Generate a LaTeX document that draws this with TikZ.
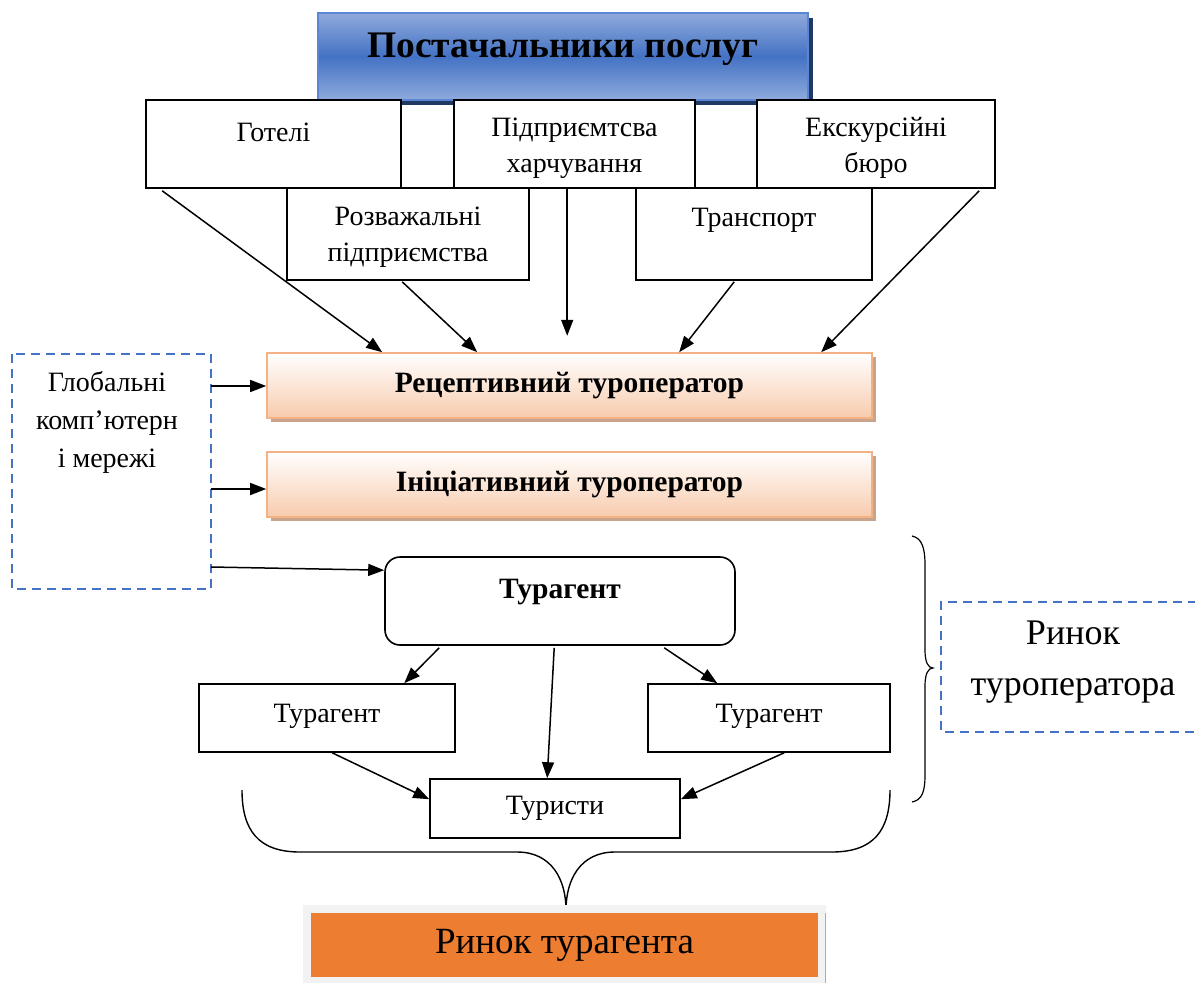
\documentclass[tikz,border=0pt]{standalone}
\usepackage{fontspec}
\setmainfont{Liberation Serif}
\usetikzlibrary{arrows.meta,calc}
\definecolor{blueM}{HTML}{4472C4}
\definecolor{blueL}{HTML}{8FAADC}
\definecolor{blueD}{HTML}{1F3864}
\definecolor{blueB}{HTML}{5B86D6}
\definecolor{peach}{HTML}{F8CBAD}
\definecolor{peachB}{HTML}{F4B183}
\definecolor{peachS}{HTML}{C8A48C}
\definecolor{dashblue}{HTML}{4472C4}
\definecolor{orangeF}{HTML}{ED7D31}
\definecolor{grayBg}{HTML}{F2F2F2}
\newcommand\txtN{\fontsize{28}{36}\selectfont}
\begin{document}
\begin{tikzpicture}[x=1pt,y=-1pt,
  box/.style={draw=black, line width=1.6pt, fill=white, inner sep=0pt},
  pbox/.style={draw=peachB, line width=1.6pt, top color=white, bottom color=peach, inner sep=0pt, minimum width=605, minimum height=65},
  txt/.style={inner sep=0pt, align=center, font=\txtN},
  arr/.style={-{Triangle[length=16pt,width=12pt]}, line width=1.5pt},
  dbox/.style={draw=dashblue, line width=2.4pt, dash pattern=on 9pt off 6pt}]
\useasboundingbox (0,0) rectangle (1195,983);
\fill[white] (0,0) rectangle (1195,983);
% title
\fill[blueD] (323,18) rectangle (813,105);
\node[draw=blueB, line width=1.4pt, top color=blueL, bottom color=blueL, middle color=blueM, minimum width=490, minimum height=87, inner sep=0pt] (title) at (563,56.5) {};
\node[txt, font=\fontsize{37.5}{40}\selectfont\bfseries] (titletxt) at (563,49) {Постачальники послуг};
% supplier boxes
\node[box, minimum width=255, minimum height=88] (hot) at (273.5,144) {};
\node[box, minimum width=241, minimum height=88] (food) at (574.5,144) {};
\node[box, minimum width=238, minimum height=88] (exc) at (876,144) {};
\node[box, minimum width=242, minimum height=92] (ent) at (408,234) {};
\node[box, minimum width=236, minimum height=92] (trn) at (754,234) {};
\node[txt] (hott) at (273.5,132) {Готелі};
\node[txt] (foodt) at (574.5,148) {Підприємтсва\\харчування};
\node[txt] (exct) at (876,148) {Екскурсійні\\бюро};
\node[txt] (entt) at (408,237) {Розважальні\\підприємства};
\node[txt] (trnt) at (754,220) {Транспорт};
% operators
\fill[peachS] (271,357) rectangle (876,422);
\node[pbox] (rec) at (569.5,385.5) {};
\node[txt, font=\fontsize{29.5}{32}\selectfont\bfseries] (rect) at (569.5,386) {Рецептивний туроператор};
\fill[peachS] (271,456) rectangle (876,521);
\node[pbox] (ini) at (569.5,484.5) {};
\node[txt, font=\fontsize{29.5}{32}\selectfont\bfseries] (init) at (569.5,484) {Ініціативний туроператор};
% arrows from suppliers
\draw[arr] ($(hot.south west)+(17,2)$) -- ($(rec.north west)+(116,0)$);
\draw[arr] ($(ent.south west)+(116,1)$) -- ($(rec.north west)+(211,0)$);
\draw[arr] ($(food.south west)+(114,0)$) -- ($(food.south west)+(114,147)$);
\draw[arr] ($(trn.south west)+(99,1)$) -- ($(rec.north west)+(413,0)$);
\draw[arr] ($(exc.south west)+(223,2)$) -- ($(rec.north west)+(555,0)$);
% global networks
\draw[dbox] (12,354) rectangle (211,589);
\node[txt, font=\fontsize{28}{38}\selectfont] (glob) at (107,422) {Глобальні\\комп’ютерн\\і мережі};
\coordinate (g1) at (211,386);
\coordinate (g2) at (211,489);
\coordinate (g3) at (211,567);
\draw[arr] (g1) -- (rec.west |- g1);
\draw[arr] (g2) -- (ini.west |- g2);
% agents
\node[box, rounded corners=15pt, minimum width=350, minimum height=88] (ag) at (560,601) {};
\node[txt, font=\fontsize{29.5}{32}\selectfont\bfseries] (agt) at (560,592) {Турагент};
\draw[arr] (g3) -- ($(ag.north west)+(0,14)$);
\node[box, minimum width=256, minimum height=68] (agl) at (327,718) {};
\node[txt] (aglt) at (327,716) {Турагент};
\node[box, minimum width=242, minimum height=68] (agr) at (769,718) {};
\node[txt] (agrt) at (769,716) {Турагент};
\node[box, minimum width=250, minimum height=59] (tour) at (555,808.5) {};
\node[txt] (tourt) at (555,808) {Туристи};
\draw[arr] ($(ag.south west)+(55,2)$) -- ($(agl.north west)+(206,0)$);
\draw[arr] ($(ag.south west)+(170,2)$) -- ($(tour.north west)+(118,0)$);
\draw[arr] ($(ag.south west)+(280,2)$) -- ($(agr.north west)+(70,0)$);
\draw[arr] ($(agl.south west)+(134,0)$) -- ($(tour.north west)+(0,21)$);
\draw[arr] ($(agr.south west)+(137,0)$) -- ($(tour.north east)+(0,21)$);
% right brace
\draw[line width=1.2pt] (912,536) .. controls (922,538) and (925,548) .. (925,565) -- (925,650) .. controls (925,662) and (928,668) .. (933,668) .. controls (928,668) and (925,674) .. (925,686) -- (925,775) .. controls (925,792) and (922,800) .. (912,802);
\draw[dbox] (1197,602) -- (941,602) -- (941,732) -- (1197,732);
\node[txt, font=\fontsize{36}{51}\selectfont] (rto) at (1073,662.5) {Ринок\\туроператора};
% bottom brace
\draw[line width=1.4pt] (242,790) .. controls (242,830) and (258,852) .. (300,852) -- (517,852) .. controls (552,852) and (566,880) .. (566,910);
\draw[line width=1.4pt] (890,790) .. controls (890,830) and (874,852) .. (832,852) -- (615,852) .. controls (580,852) and (566,880) .. (566,910);
% bottom box
\fill[grayBg] (303,905) rectangle (826,983);
\draw[peachS, line width=1pt] (825.5,913) -- (825.5,983);
\node[fill=orangeF, minimum width=507, minimum height=64, inner sep=0pt] (rta) at (564.5,945) {};
\node[txt, font=\fontsize{37}{40}\selectfont] (rtat) at (564.5,945) {Ринок турагента};
\end{tikzpicture}
\end{document}
